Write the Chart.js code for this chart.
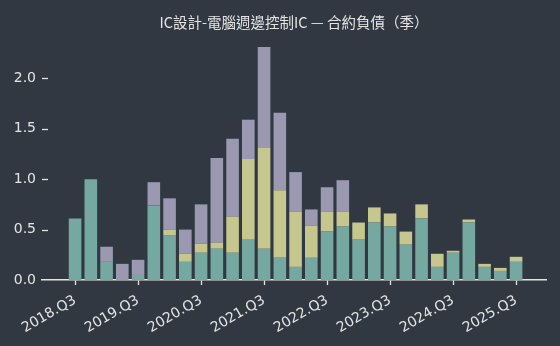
<!DOCTYPE html>
<html>
<head>
<meta charset="utf-8">
<script src="https://cdn.jsdelivr.net/npm/chart.js@4.4.1/dist/chart.umd.min.js"></script>
<style>
  html, body { margin: 0; padding: 0; background: #313842; }
  #chart { display: block; }
</style>
</head>
<body>
<canvas id="chart" width="560" height="346"></canvas>
<script>
// Quarters shown on the x axis
const quarters = [
    '2018.Q3', '2018.Q4', '2019.Q1', '2019.Q2', '2019.Q3', '2019.Q4', '2020.Q1', '2020.Q2',
    '2020.Q3', '2020.Q4', '2021.Q1', '2021.Q2', '2021.Q3', '2021.Q4', '2022.Q1', '2022.Q2',
    '2022.Q3', '2022.Q4', '2023.Q1', '2023.Q2', '2023.Q3', '2023.Q4', '2024.Q1', '2024.Q2',
    '2024.Q3', '2024.Q4', '2025.Q1', '2025.Q2', '2025.Q3'
];

// Stacked series, bottom to top
const tealValues = [
    0.61, 1.00, 0.18, 0.00, 0.05, 0.74, 0.44, 0.18, 0.27, 0.31, 0.27, 0.40, 0.31, 0.22, 0.13,
    0.22, 0.48, 0.53, 0.40, 0.57, 0.53, 0.35, 0.61, 0.13, 0.27, 0.57, 0.13, 0.09, 0.18
];
const khakiValues = [
    0, 0, 0, 0, 0, 0, 0.06, 0.08, 0.09, 0.06, 0.36, 0.80, 1.00, 0.67, 0.55,
    0.32, 0.20, 0.15, 0.17, 0.15, 0.13, 0.13, 0.14, 0.13, 0.02, 0.03, 0.03, 0.03, 0.05
];
const lavenderValues = [
    0, 0, 0.15, 0.16, 0.15, 0.23, 0.31, 0.24, 0.39, 0.84, 0.77, 0.39, 1.00, 0.77, 0.39,
    0.16, 0.24, 0.31, 0, 0, 0, 0, 0, 0, 0, 0, 0, 0, 0
];

// Tick positions
const xTickIdx = [0, 4, 8, 12, 16, 20, 24, 28];
const yTicks = [0, 0.5, 1.0, 1.5, 2.0];

const titleText = 'IC設計-電腦週邊控制IC — 合約負債（季）';
const textColor = '#e4e4e4';

const toPoints = arr => arr.map((v, i) => ({ x: i, y: v }));

// title centred over the plot area + short inward y tick marks
const decorations = {
    id: 'decorations',
    afterDraw(chart) {
        const ctx = chart.ctx;
        const area = chart.chartArea;
        const ys = chart.scales.y;
        ctx.save();
        ctx.fillStyle = textColor;
        ctx.font = '14.5px "Noto Sans CJK TC", "Noto Sans", sans-serif';
        ctx.textAlign = 'center';
        ctx.textBaseline = 'middle';
        ctx.fillText(titleText, (area.left + area.right) / 2, 22);

        ctx.strokeStyle = textColor;
        ctx.lineWidth = 1.3;
        yTicks.forEach(v => {
            if (v === 0) return;
            const y = Math.round(ys.getPixelForValue(v)) + 0.5;
            ctx.beginPath();
            ctx.moveTo(area.left, y);
            ctx.lineTo(area.left + 6, y);
            ctx.stroke();
        });
        ctx.restore();
    }
};

new Chart(document.getElementById('chart'), {
    type: 'bar',
    data: {
        datasets: [
            { label: 'teal', data: toPoints(tealValues), backgroundColor: '#75a8a1' },
            { label: 'khaki', data: toPoints(khakiValues), backgroundColor: '#c6c68f' },
            { label: 'lavender', data: toPoints(lavenderValues), backgroundColor: '#9b99b1' }
        ]
    },
    options: {
        responsive: false,
        animation: false,
        layout: { padding: { top: 35, right: 14, left: 0, bottom: 0 } },
        datasets: {
            bar: { categoryPercentage: 0.8, barPercentage: 1.0, borderWidth: 0 }
        },
        plugins: {
            legend: { display: false },
            tooltip: { enabled: false },
            title: { display: false }
        },
        scales: {
            x: {
                type: 'linear',
                stacked: true,
                offset: false,
                min: -2.1,
                max: 29.9,
                afterBuildTicks: scale => { scale.ticks = xTickIdx.map(v => ({ value: v })); },
                afterFit: scale => { scale.height = 66; },
                grid: { display: true, offset: false, drawOnChartArea: false, drawTicks: true, tickLength: 5, tickColor: textColor, tickWidth: 1.3 },
                border: { display: true, color: textColor, width: 1.5 },
                ticks: {
                    color: textColor,
                    font: { family: '"DejaVu Sans", sans-serif', size: 14 },
                    minRotation: 30,
                    maxRotation: 30,
                    padding: 7,
                    autoSkip: false,
                    callback: v => quarters[v] || ''
                }
            },
            y: {
                stacked: true,
                min: 0,
                max: 2.43,
                afterBuildTicks: scale => { scale.ticks = yTicks.map(v => ({ value: v })); },
                afterFit: scale => { scale.width = 42; },
                grid: { display: false, drawTicks: false },
                border: { display: false },
                ticks: {
                    color: textColor,
                    font: { family: '"DejaVu Sans", sans-serif', size: 14 },
                    padding: 6,
                    callback: v => Number(v).toFixed(1)
                }
            }
        }
    },
    plugins: [decorations]
});
</script>
</body>
</html>
